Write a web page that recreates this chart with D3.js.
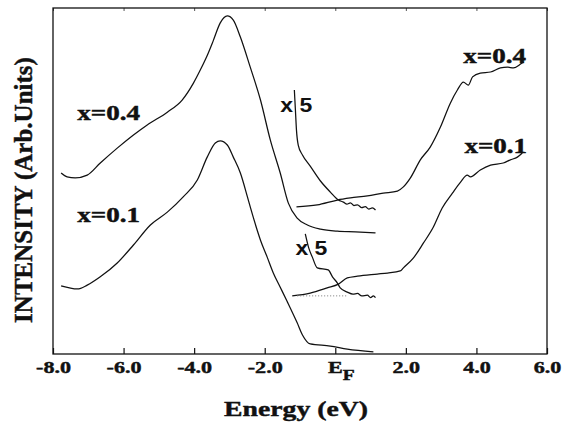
<!DOCTYPE html>
<meta charset="utf-8">

<!-- Load d3.js -->
<script src="https://d3js.org/d3.v7.min.js"></script>

<style>
  body { margin: 0; background: #fff; }
  .serif { font-family: "Liberation Serif", "Times New Roman", serif; font-weight: bold; fill: #111; stroke: #111; stroke-width: 0.45px; }
  .sans { font-family: "Liberation Sans", Arial, sans-serif; font-weight: bold; fill: #111; }
  .curve { fill: none; stroke: #111; stroke-width: 1.25; stroke-linejoin: round; }
</style>

<div id="spectra"></div>

<script>

// energies (eV) and intensities (arb. units)
// valence band, x=0.4
var ups04E = [-7.77, -7.60, -7.37, -7.03, -6.66, -6.18, -5.72, -5.33, -4.76, -4.34, -4.02, -3.83, -3.62, -3.46,
              -3.26, -3.06, -2.89, -2.69, -2.41, -2.12, -1.84, -1.56, -1.33, -1.08, -0.79, -0.42, 0.06, 0.57, 1.14];
var ups04I = [52.3, 51.2, 50.9, 51.7, 55.2, 59.5, 63.3, 66.2, 69.9, 73.4, 78.3, 82.0, 86.5, 90.5,
              95.7, 97.7, 96.5, 91.6, 82.9, 73.4, 61.8, 52.3, 43.6, 39.3, 37.3, 36.1, 35.5, 35.3, 35.0];

// valence band, x=0.1
var ups01E = [-7.77, -7.31, -7.03, -6.66, -6.18, -5.72, -5.24, -4.76, -4.31, -3.91, -3.63, -3.40, -3.26, -3.06,
              -2.89, -2.69, -2.49, -2.41, -2.12, -1.93, -1.76, -1.56, -1.37, -1.08, -0.93, -0.71, -0.14, 0.34, 1.08];
var ups01I = [19.7, 18.8, 19.9, 22.3, 26.3, 31.5, 37.3, 41.0, 45.4, 50.3, 56.9, 61.0, 61.6, 60.4,
              56.9, 52.3, 45.4, 42.5, 32.9, 28.0, 23.5, 19.3, 15.3, 9.0, 5.5, 2.9, 2.3, 1.4, 0.6];

// near E_F, multiplied by 5
var x5_04E = [-1.16, -1.13, -1.10, -1.05, -0.93, -0.71, -0.42, -0.14, 0.09, 0.23, 0.33, 0.43, 0.53, 0.63, 0.75, 0.85, 0.95, 1.05, 1.14];
var x5_04I = [76.3, 70.5, 64.7, 60.4, 57.5, 54.3, 50.0, 46.8, 44.5, 43.9, 43.3, 43.7, 42.9, 43.1, 42.3, 42.6, 41.9, 42.2, 41.6];

var x5_01E = [-0.85, -0.76, -0.65, -0.51, -0.20, -0.08, 0.06, 0.14, 0.34, 0.50, 0.63, 0.75, 0.91, 1.00, 1.08, 1.14];
var x5_01I = [34.7, 30.9, 28.0, 24.9, 24.3, 22.3, 20.5, 19.1, 17.9, 17.3, 17.5, 16.8, 17.0, 16.3, 16.8, 16.3];

// empty states, x=0.4
var bis04E = [-1.10, -0.51, 0.06, 0.43, 0.91, 1.36, 1.76, 1.93, 2.13, 2.41, 2.69, 2.98, 3.26, 3.46,
              3.63, 3.77, 3.89, 4.11, 4.40, 4.68, 4.88, 5.05, 5.25, 5.33];
var bis04I = [42.5, 43.1, 44.5, 45.1, 45.7, 46.5, 47.1, 48.3, 50.9, 56.1, 59.8, 65.6, 72.5, 76.3,
              78.6, 77.7, 80.1, 81.2, 81.5, 82.7, 82.9, 82.7, 83.8, 84.4];

// empty states, x=0.1
var bis01E = [-1.22, -0.71, -0.23, 0.09, 0.34, 0.63, 1.19, 1.48, 1.84, 1.93, 2.21, 2.50, 2.78, 3.03,
              3.32, 3.55, 3.74, 3.83, 4.11, 4.40, 4.76, 4.96, 5.16, 5.30];
var bis01I = [16.8, 17.6, 19.1, 20.2, 22.0, 22.5, 23.1, 23.4, 24.0, 24.9, 27.7, 32.1, 36.7, 42.2,
              46.5, 49.7, 51.7, 51.2, 53.2, 54.6, 55.2, 56.1, 56.9, 58.1];

// faint dotted baseline under the x=0.1 x5 trace
var dotE = [-1.08, 0.34];
var dotI = [16.8, 16.8];

// x axis
var tickValues = [-8, -6, -4, -2, 0, 2, 4, 6];
var tickLabels = ["-8.0", "-6.0", "-4.0", "-2.0", "E", "2.0", "4.0", "6.0"];

// set the dimensions and margins of the graph
var margin = {top: 8, right: 15, bottom: 73, left: 53},
    width = 562 - margin.left - margin.right,
    height = 427 - margin.top - margin.bottom;

var svg = d3.select("#spectra")
  .append("svg")
    .attr("width", width + margin.left + margin.right)
    .attr("height", height + margin.top + margin.bottom)
  .append("g")
    .attr("transform", "translate(" + margin.left + "," + margin.top + ")");

var x = d3.scaleLinear().domain([-8, 6]).range([0, width]);
var y = d3.scaleLinear().domain([0, 100]).range([height, 0]);

// bottom axis, ticks pointing inward
var xAxis = svg.append("g")
  .attr("transform", "translate(0," + height + ")")
  .call(d3.axisBottom(x)
    .tickValues(tickValues)
    .tickSizeInner(-6)
    .tickSizeOuter(0)
    .tickPadding(7)
    .tickFormat(function(d, i) { return tickLabels[i]; }));
xAxis.select(".domain").remove();
xAxis.selectAll("line").attr("stroke", "#111").attr("stroke-width", 1.2);
xAxis.selectAll("text")
  .attr("class", "serif")
  .style("font-size", "17px")
  .attr("transform", "scale(1.3,1)");

// E_F : subscript F
xAxis.selectAll("text")
  .filter(function(d) { return d === 0; })
  .attr("text-anchor", "start")
  .attr("x", -6)
  .append("tspan")
    .attr("dy", "0.45em")
    .style("font-size", "15px")
    .text("F");

// small ticks along the top
var topAxis = svg.append("g")
  .call(d3.axisTop(x).tickValues(tickValues).tickSizeInner(-3).tickSizeOuter(0).tickFormat(""));
topAxis.select(".domain").remove();
topAxis.selectAll("line").attr("stroke", "#555");

// frame
svg.append("rect")
  .attr("width", width)
  .attr("height", height)
  .attr("fill", "none")
  .attr("stroke", "#111")
  .attr("stroke-width", 1.3);

// curves
var line = d3.line()
  .curve(d3.curveMonotoneX)
  .x(function(d) { return x(d[0]); })
  .y(function(d) { return y(d[1]); });

[[ups04E, ups04I], [ups01E, ups01I], [x5_04E, x5_04I], [x5_01E, x5_01I],
 [bis04E, bis04I], [bis01E, bis01I]].forEach(function(s) {
  svg.append("path")
    .datum(d3.zip(s[0], s[1]))
    .attr("class", "curve")
    .attr("d", line);
});

svg.append("path")
  .datum(d3.zip(dotE, dotI))
  .attr("fill", "none")
  .attr("stroke", "#777")
  .attr("stroke-width", 1)
  .attr("stroke-dasharray", "1,2")
  .attr("d", line);

// text labels on the plot (anchored in data units)
function note(e, i, txt, cls, size, sx) {
  svg.append("g")
    .attr("transform", "translate(" + x(e) + "," + y(i) + ")")
    .append("text")
      .attr("class", cls)
      .style("font-size", size + "px")
      .attr("transform", "scale(" + sx + ",1)")
      .text(txt);
}
note(-7.31, 67.6, "x=0.4", "serif", 20, 1.35);
note(-7.31, 38.2, "x=0.1", "serif", 20, 1.35);
note(3.63, 84.1, "x=0.4", "serif", 20, 1.35);
note(3.66, 58.1, "x=0.1", "serif", 20, 1.35);
note(-1.56, 69.9, "x 5", "sans", 20, 1.15);
note(-1.13, 28.6, "x 5", "sans", 20, 1.15);

// axis titles
svg.append("g")
  .attr("transform", "translate(" + (296 - margin.left) + "," + (height + 62) + ")")
  .append("text")
    .attr("class", "serif")
    .attr("text-anchor", "middle")
    .style("font-size", "22px")
    .attr("transform", "scale(1.26,1)")
    .text("Energy (eV)");

svg.append("text")
  .attr("class", "serif")
  .attr("text-anchor", "middle")
  .style("font-size", "25px")
  .attr("transform", "translate(" + (32 - margin.left) + "," + (190 - margin.top) + ")rotate(-90)")
  .text("INTENSITY (Arb.Units)");

</script>
